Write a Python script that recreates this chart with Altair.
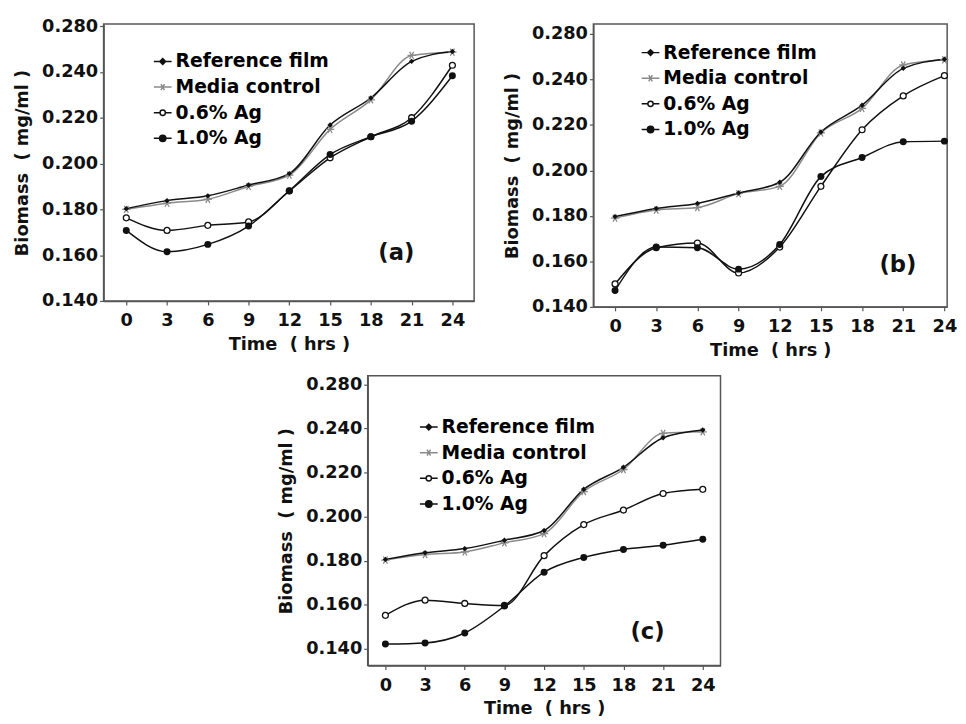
import altair as alt
import pandas as pd

# ---------------- data ----------------
times = [0, 3, 6, 9, 12, 15, 18, 21, 24]
series_names = ["Reference film", "Media control", "0.6% Ag", "1.0% Ag"]

a_ref = [0.1803, 0.1838, 0.1859, 0.1906, 0.1956, 0.2168, 0.2286, 0.2446, 0.2489]
a_media = [0.1800, 0.1827, 0.1844, 0.1900, 0.1949, 0.2149, 0.2278, 0.2472, 0.2486]
a_ag06 = [0.1763, 0.1708, 0.1730, 0.1745, 0.1880, 0.2025, 0.2117, 0.2200, 0.2429]
a_ag10 = [0.1708, 0.1615, 0.1647, 0.1727, 0.1881, 0.2039, 0.2117, 0.2185, 0.2383]

b_ref = [0.1797, 0.1833, 0.1855, 0.1901, 0.1948, 0.2169, 0.2287, 0.2449, 0.2489]
b_media = [0.1790, 0.1826, 0.1837, 0.1898, 0.1930, 0.2165, 0.2273, 0.2464, 0.2487]
b_ag06 = [0.1501, 0.1660, 0.1681, 0.1549, 0.1663, 0.1930, 0.2179, 0.2328, 0.2417]
b_ag10 = [0.1472, 0.1663, 0.1660, 0.1566, 0.1674, 0.1973, 0.2057, 0.2126, 0.2129]

c_ref = [0.1806, 0.1836, 0.1855, 0.1893, 0.1937, 0.2124, 0.2224, 0.2358, 0.2393]
c_media = [0.1803, 0.1828, 0.1840, 0.1881, 0.1923, 0.2114, 0.2214, 0.2378, 0.2385]
c_ag06 = [0.1552, 0.1621, 0.1606, 0.1597, 0.1823, 0.1964, 0.2030, 0.2105, 0.2124]
c_ag10 = [0.1422, 0.1427, 0.1472, 0.1594, 0.1748, 0.1815, 0.1851, 0.1870, 0.1897]

y_tick_values = [0.14, 0.16, 0.18, 0.20, 0.22, 0.24, 0.26]
panel_keys = ["a", "b", "c"]
panel_labels = ["(a)", "(b)", "(c)"]

# ---------------- tables ----------------
panel_series = {
    "a": [a_ref, a_media, a_ag06, a_ag10],
    "b": [b_ref, b_media, b_ag06, b_ag10],
    "c": [c_ref, c_media, c_ag06, c_ag10],
}
rows = []
for key, lists in panel_series.items():
    for name, vals in zip(series_names, lists):
        for t, v in zip(times, vals):
            rows.append({"panel": key, "series": name, "t": t, "v": v})
df = pd.DataFrame(rows)
labels_df = pd.DataFrame({"panel": panel_keys, "label": panel_labels})

FONT = "DejaVu Sans"
BLACK = "#111111"
GREY = "#8a8a8a"
FRAME = "#555555"

line_colors = {"Reference film": BLACK, "Media control": GREY, "0.6% Ag": BLACK, "1.0% Ag": BLACK}
ASTER = "M-1,0L1,0M-0.5,-0.866L0.5,0.866M-0.5,0.866L0.5,-0.866"

legend_paths = [
    "M-1,0L1,0M0,-0.33L0.33,0L0,0.33L-0.33,0Z",
    "M-1,0L1,0M-0.2,-0.34L0.2,0.34M-0.2,0.34L0.2,-0.34",
    "M-1,0L-0.3,0M0.3,0L1,0M-0.3,0A0.3,0.3 0 1 0 0.3,0A0.3,0.3 0 1 0 -0.3,0Z",
    "M-1,0L1,0M-0.36,0A0.36,0.36 0 1 0 0.36,0A0.36,0.36 0 1 0 -0.36,0Z",
]
legend_fills = [BLACK, "transparent", "white", BLACK]
legend_strokes = [BLACK, GREY, BLACK, BLACK]


def panel(key, width, height, xdom, ydom, leg_x, leg_y, lab_x, lab_y):
    base = alt.Chart(df).transform_filter(alt.datum.panel == key)
    X = alt.X(
        "t:Q",
        scale=alt.Scale(domain=xdom, nice=False, zero=False),
        axis=alt.Axis(values=times, title="Time\u00a0 ( hrs )"),
    )
    Y = alt.Y(
        "v:Q",
        scale=alt.Scale(domain=ydom, nice=False, zero=False),
        axis=alt.Axis(
            values=y_tick_values,
            title="Biomass\u00a0 ( mg/ml )",
            labelExpr="datum.value > 0.25 ? '0.280' : format(datum.value, '.3f')",
        ),
    )
    layers = []
    order = ["Media control", "0.6% Ag", "1.0% Ag", "Reference film"]
    for name in order:
        layers.append(
            base.transform_filter(alt.datum.series == name)
            .mark_line(color=line_colors[name], strokeWidth=1.5, interpolate="monotone")
            .encode(x=X, y=Y)
        )
    for name in order:
        sub = base.transform_filter(alt.datum.series == name)
        if name == "Media control":
            m = sub.mark_point(shape=ASTER, size=70, filled=False, color=GREY,
                               strokeWidth=1.3, opacity=1)
        elif name == "0.6% Ag":
            m = sub.mark_point(shape="circle", size=36, fill="white", stroke=BLACK,
                               strokeWidth=1.3, opacity=1)
        elif name == "1.0% Ag":
            m = sub.mark_point(shape="circle", size=50, filled=True, color=BLACK, opacity=1)
        else:
            m = sub.mark_point(shape="diamond", size=30, filled=True, color=BLACK, opacity=1)
        layers.append(m.encode(x=X, y=Y))

    leg = alt.Legend(
        title=None, orient="none", legendX=leg_x, legendY=leg_y,
        labelFont=FONT, labelFontSize=19, labelFontWeight="bold", labelColor="black",
        symbolSize=324, symbolStrokeWidth=1.5, rowPadding=6, labelOffset=3,
        padding=0, symbolOpacity=1,
    )
    legend_layer = (
        base.transform_filter("datum.t < -100")
        .mark_point(opacity=1, strokeWidth=1.5)
        .encode(
            x=X, y=Y,
            shape=alt.Shape("series:N", scale=alt.Scale(domain=series_names, range=legend_paths), legend=leg),
            fill=alt.Fill("series:N", scale=alt.Scale(domain=series_names, range=legend_fills), legend=leg),
            stroke=alt.Stroke("series:N", scale=alt.Scale(domain=series_names, range=legend_strokes), legend=leg),
        )
    )
    layers.append(legend_layer)
    label = (
        alt.Chart(labels_df).transform_filter(alt.datum.panel == key)
        .mark_text(font=FONT, fontSize=23, fontWeight="bold", color=BLACK, align="center", baseline="middle")
        .encode(x=alt.value(lab_x), y=alt.value(lab_y), text="label:N")
    )
    layers.append(label)
    return alt.layer(*layers).properties(width=width, height=height)


pa = panel("a", 376, 281, [-1.67, 25.6], [0.14, 0.2609], 50, 28, 297, 232)
pb = panel("b", 359, 287, [-1.58, 24.2], [0.14, 0.2644], 48, 19, 309, 245)
pc = panel("c", 358, 294, [-1.34, 25.34], [0.1324, 0.2639], 52, 42, 284, 260)

spacer = (
    alt.Chart(labels_df).mark_text(text="").encode(x=alt.value(0), y=alt.value(0))
    .properties(width=149, height=10, view=alt.ViewBackground(stroke="transparent"))
)

indep = dict(x="independent", y="independent", shape="independent",
             fill="independent", stroke="independent")

row1 = alt.hconcat(pa, pb, spacing=28).resolve_scale(**indep).resolve_legend(
    shape="independent", fill="independent", stroke="independent")
row2 = alt.hconcat(spacer, pc, spacing=26).resolve_scale(**indep).resolve_legend(
    shape="independent", fill="independent", stroke="independent")

chart = (
    alt.vconcat(row1, row2, spacing=9)
    .resolve_scale(**indep)
    .resolve_legend(shape="independent", fill="independent", stroke="independent")
    .properties(padding={"left": 5, "top": 3, "right": 0, "bottom": 0})
    .configure_view(stroke=FRAME, strokeWidth=1.5)
    .configure_axis(
        labelFont=FONT, labelFontSize=18, labelFontWeight="bold", labelColor=BLACK,
        titleFont=FONT, titleFontSize=18, titleFontWeight="bold", titleColor=BLACK,
        grid=False, domainColor=FRAME, tickColor=FRAME, domainWidth=1.5,
        tickSize=4, tickWidth=1.2,
    )
    .configure_axisX(labelPadding=7, titlePadding=6)
    .configure_axisY(labelPadding=2, titlePadding=10)
)

chart.save("out.html", embed_options={"renderer": "svg", "actions": False})
